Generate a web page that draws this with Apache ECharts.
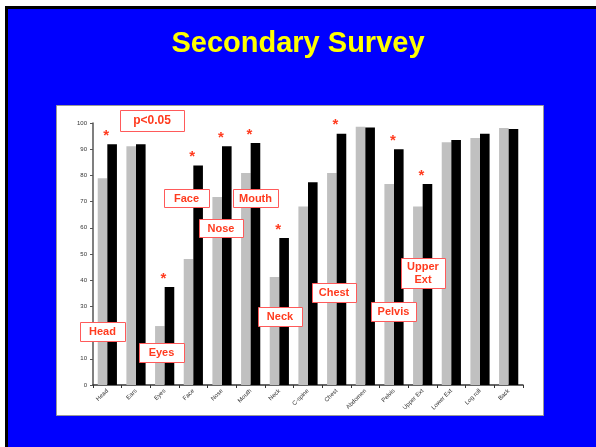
<!DOCTYPE html>
<html>
<head>
<meta charset="utf-8">
<title>Secondary Survey</title>
<script src="https://cdn.jsdelivr.net/npm/echarts@6/dist/echarts.min.js"></script>
<style>
  html, body { margin: 0; padding: 0; background: #ffffff; }
  #chart { width: 596px; height: 447px; }
</style>
</head>
<body>
<div id="chart"></div>
<script>
// Body regions examined in the secondary survey
const regions = ['Head', 'Ears', 'Eyes', 'Face', 'Nose', 'Mouth', 'Neck', 'C-spine',
  'Chest', 'Abdomen', 'Pelvis', 'Upper Ext', 'Lower Ext', 'Log roll', 'Back'];

// Percentage examined, before (grey) and after (black)
const beforeValues = [78.9, 91.1, 22.5, 48.1, 71.8, 80.9, 41.2, 68.1,
  80.9, 98.6, 76.7, 68.1, 92.7, 94.3, 98.1];
const afterValues = [91.9, 91.9, 37.4, 83.8, 91.1, 92.4, 56.1, 77.4,
  95.9, 98.3, 90.0, 76.7, 93.5, 95.9, 97.7];

// Regions where the change is significant (p<0.05)
const significant = ['Head', 'Eyes', 'Face', 'Nose', 'Mouth', 'Neck', 'Chest', 'Pelvis', 'Upper Ext'];

// Value axis ticks
const yTicks = [0, 10, 20, 30, 40, 50, 60, 70, 80, 90, 100];

// Callout boxes naming the significant regions
const callouts = [
  { text: 'p<0.05', x: 120, y: 110, w: 64, h: 21, size: 12 },
  { text: 'Head', x: 80, y: 322, w: 45, h: 19, size: 11 },
  { text: 'Eyes', x: 139, y: 343, w: 45, h: 19, size: 11 },
  { text: 'Face', x: 164, y: 189, w: 45, h: 18, size: 11 },
  { text: 'Nose', x: 199, y: 219, w: 44, h: 18, size: 11 },
  { text: 'Mouth', x: 233, y: 189, w: 45, h: 18, size: 11 },
  { text: 'Neck', x: 258, y: 307, w: 44, h: 19, size: 11 },
  { text: 'Chest', x: 312, y: 283, w: 44, h: 19, size: 11 },
  { text: 'Pelvis', x: 371, y: 302, w: 45, h: 19, size: 11 },
  { text: 'Upper\nExt', x: 401, y: 258, w: 44, h: 30, size: 11 }
];

const RED_TEXT = '#ff3b1f';
const RED_EDGE = '#ff5a5a';
const FONT = '"Liberation Sans", Arial, sans-serif';

const chart = echarts.init(document.getElementById('chart'), null, { renderer: 'canvas' });

const calloutGraphics = [];
callouts.forEach(c => {
  calloutGraphics.push({
    type: 'rect',
    left: c.x, top: c.y,
    z: 100,
    shape: { x: 0, y: 0, width: c.w, height: c.h },
    style: { fill: '#ffffff', stroke: RED_EDGE, lineWidth: 1 }
  });
  calloutGraphics.push({
    type: 'text',
    x: c.x + c.w / 2, y: c.y + c.h / 2 + 0.5,
    z: 101,
    style: {
      text: c.text,
      fill: RED_TEXT,
      font: 'bold ' + c.size + 'px ' + FONT,
      align: 'center',
      verticalAlign: 'middle',
      lineHeight: 13
    }
  });
});

const option = {
  animation: false,
  backgroundColor: '#ffffff',
  graphic: [
    // slide background with its dark top/left edge
    { type: 'rect', left: 5, top: 6, z: -10, silent: true,
      shape: { width: 591, height: 441 }, style: { fill: '#000000' } },
    { type: 'rect', left: 8, top: 9, z: -9, silent: true,
      shape: { width: 588, height: 438 }, style: { fill: '#0000ff' } },
    // white chart panel
    { type: 'rect', left: 57, top: 106, z: -8, silent: true,
      shape: { width: 487, height: 310 }, style: { fill: '#555555' } },
    { type: 'rect', left: 56, top: 105, z: -7, silent: true,
      shape: { width: 487, height: 310 }, style: { fill: '#ffffff', stroke: '#9a9a9a', lineWidth: 1 } },
    // slide title
    { type: 'text', left: 'center', top: 29, z: 10,
      style: { text: 'Secondary Survey', fill: '#ffff00', font: 'bold 29px ' + FONT } }
  ].concat(calloutGraphics),
  grid: { left: 93, right: 73, top: 123, bottom: 62 },
  xAxis: {
    type: 'category',
    data: regions,
    axisLine: { lineStyle: { color: '#333333', width: 1.5 } },
    axisTick: { show: true, length: 3, lineStyle: { color: '#333333' } },
    axisLabel: { rotate: 45, fontSize: 6, color: '#333333', margin: 5, interval: 0, fontFamily: FONT }
  },
  yAxis: {
    type: 'value',
    min: yTicks[0], max: yTicks[yTicks.length - 1], interval: yTicks[1] - yTicks[0],
    axisLine: { show: true, lineStyle: { color: '#555555', width: 1.5 } },
    axisTick: { show: true, length: 3, lineStyle: { color: '#555555' } },
    axisLabel: { fontSize: 6, color: '#333333', margin: 6, fontFamily: FONT },
    splitLine: { show: false }
  },
  series: [
    {
      name: 'Before',
      type: 'bar',
      data: beforeValues,
      barWidth: 9.6,
      barGap: '0%',
      itemStyle: { color: '#c0c0c0' }
    },
    {
      name: 'After',
      type: 'bar',
      data: afterValues.map((v, i) => ({
        value: v,
        label: { show: significant.indexOf(regions[i]) >= 0 }
      })),
      barWidth: 9.6,
      itemStyle: { color: '#000000' },
      label: {
        show: false,
        position: 'top',
        formatter: '*',
        color: '#ff3b1f',
        fontSize: 15,
        fontWeight: 'bold',
        fontFamily: FONT,
        distance: 1,
        offset: [-6, 0]
      }
    }
  ]
};

chart.setOption(option);
</script>
</body>
</html>
